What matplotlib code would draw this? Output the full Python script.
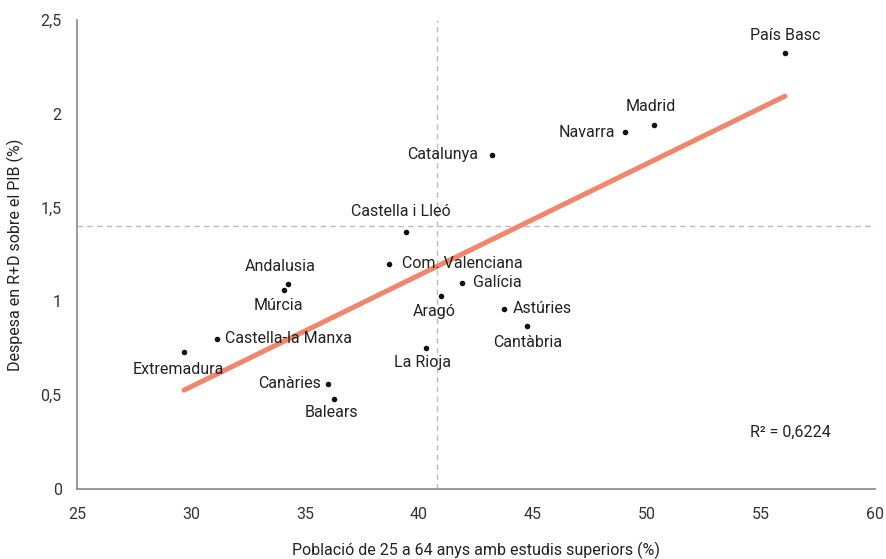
import numpy as np
import matplotlib
matplotlib.use("Agg")
import matplotlib.pyplot as plt

plt.rcParams['font.family'] = ['Roboto', 'DejaVu Sans']

regions = ["País Basc", "Madrid", "Navarra", "Catalunya", "Castella i Lleó",
           "Com. Valenciana", "Galícia", "Aragó", "Astúries", "Cantàbria",
           "La Rioja", "Andalusia", "Múrcia", "Castella-la Manxa",
           "Extremadura", "Canàries", "Balears"]
pop_higher_ed = [56.05, 50.3, 49.05, 43.2, 39.44, 38.67, 41.9, 40.95, 43.71,
                 44.72, 40.32, 34.24, 34.08, 31.13, 29.69, 36.02, 36.26]
rd_spend = [2.32, 1.94, 1.90, 1.78, 1.37, 1.20, 1.10, 1.03, 0.96, 0.87,
            0.75, 1.09, 1.06, 0.80, 0.73, 0.56, 0.48]
spain_x = 40.8
spain_y = 1.40
r2_text = "R² = 0,6224"
x_ticks = [25, 30, 35, 40, 45, 50, 55, 60]
y_ticks = [0, 0.5, 1, 1.5, 2, 2.5]
y_ticklabels = ["0", "0,5", "1", "1,5", "2", "2,5"]

# label placement: (dx px, dy px, ha, va)
placement = {
    "País Basc": (0, 10, 'center', 'bottom'),
    "Madrid": (-3, 11, 'center', 'bottom'),
    "Navarra": (-10, 0, 'right', 'center'),
    "Catalunya": (-14, 0, 'right', 'center'),
    "Castella i Lleó": (-5, 13, 'center', 'bottom'),
    "Com. Valenciana": (13, 0, 'left', 'center'),
    "Galícia": (11, 0, 'left', 'center'),
    "Aragó": (-6, -8, 'center', 'top'),
    "Astúries": (9, 0, 'left', 'center'),
    "Cantàbria": (1, -9, 'center', 'top'),
    "La Rioja": (-4, -7, 'center', 'top'),
    "Andalusia": (-7, 10, 'center', 'bottom'),
    "Múrcia": (-6, -8, 'center', 'top'),
    "Castella-la Manxa": (8, 0, 'left', 'center'),
    "Extremadura": (-6, -10, 'center', 'top'),
    "Canàries": (-7, 0, 'right', 'center'),
    "Balears": (-2, -6, 'center', 'top'),
}

fig = plt.figure(figsize=(8.86, 5.59), dpi=100)
ax = fig.add_axes([0.0869, 0.1252, 0.9007, 0.8396])

x = np.array(pop_higher_ed)
y = np.array(rd_spend)

ax.axvline(spain_x, color='#bbbbbb', lw=1.0, ls=(0, (4, 3)), zorder=1)
ax.axhline(spain_y, color='#bbbbbb', lw=1.0, ls=(0, (4, 3)), zorder=1)

slope, intercept = np.polyfit(x, y, 1)
xs = np.array([x.min(), x.max()])
ax.plot(xs, slope * xs + intercept, color='#F0866B', lw=3.6,
        solid_capstyle='round', zorder=2)

ax.scatter(x, y, s=16, color='#111111', zorder=3, linewidths=0)

fs = 11.5
for name, xi, yi in zip(regions, x, y):
    dx, dy, ha, va = placement[name]
    ax.annotate(name, (xi, yi), xytext=(dx * 0.72, dy * 0.72),
                textcoords='offset points', ha=ha, va=va,
                fontsize=fs, color='#222222', zorder=4)

ax.text(54.5, 0.30, r2_text, fontsize=fs, color='#222222', va='center', ha='left')

ax.set_xlim(25, 60)
ax.set_ylim(0, 2.5)
ax.set_xticks(x_ticks)
ax.set_yticks(y_ticks)
ax.set_yticklabels(y_ticklabels)
ax.tick_params(axis='both', length=0, labelsize=fs, labelcolor='#333333')
ax.tick_params(axis='x', pad=13)
ax.tick_params(axis='y', pad=11)
ax.set_xticks([60], minor=True)
ax.set_yticks([2.5], minor=True)
ax.tick_params(which='minor', length=4, color='#888888', width=1)

for s in ['top', 'right']:
    ax.spines[s].set_visible(False)
for s in ['left', 'bottom']:
    ax.spines[s].set_color('#888888')
    ax.spines[s].set_linewidth(1.2)

ax.set_xlabel("Població de 25 a 64 anys amb estudis superiors (%)", fontsize=fs,
              color='#222222', labelpad=14)
ax.set_ylabel("Despesa en R+D sobre el PIB (%)", fontsize=fs, color='#222222',
              labelpad=12)

fig.savefig("out.png", dpi=100)
